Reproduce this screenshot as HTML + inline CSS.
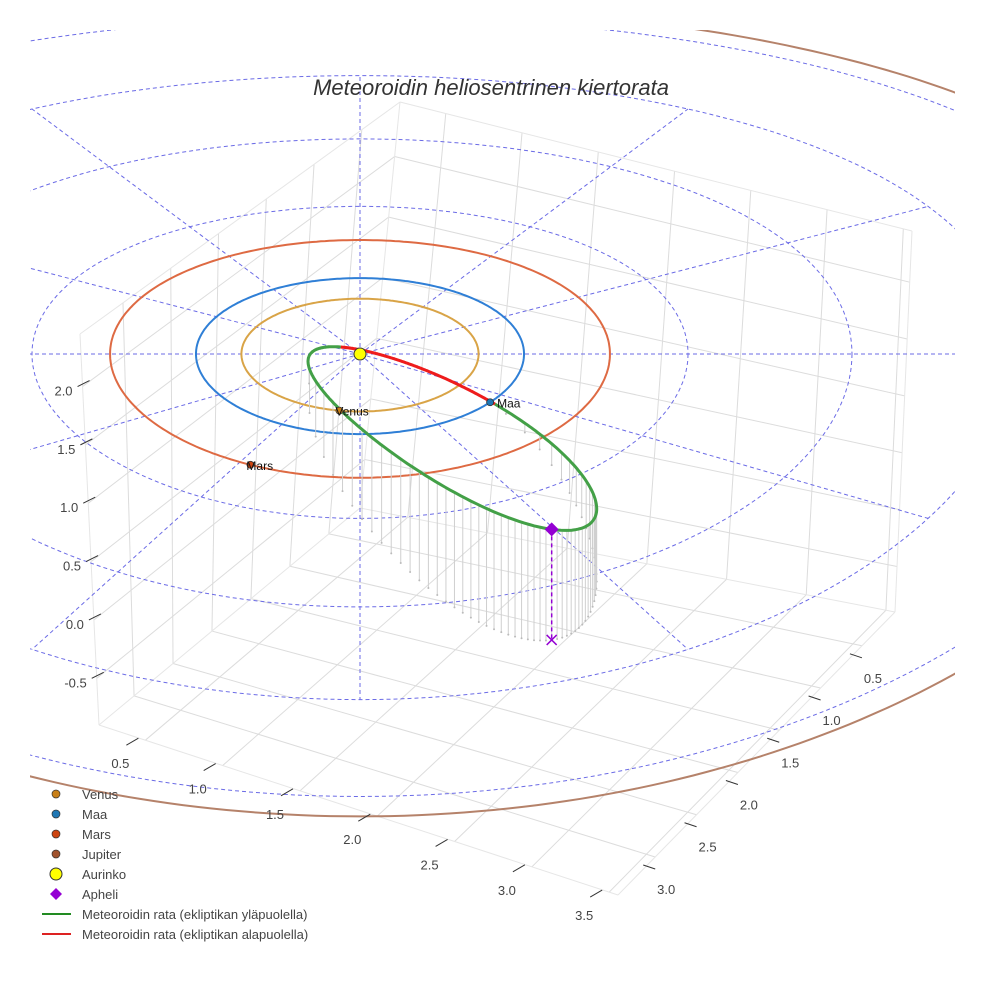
<!DOCTYPE html>
<html><head><meta charset="utf-8">
<style>
html,body{margin:0;padding:0;background:#fff;}
svg{display:block;font-family:"Liberation Sans",sans-serif;}
</style></head>
<body>
<svg id="chart" width="984" height="984" viewBox="0 0 984 984">
  <defs><clipPath id="clip"><rect x="30" y="30" width="925" height="930"/></clipPath></defs>
  <g id="box"></g>
  <g id="scene" clip-path="url(#clip)"></g>
  <g id="axes"></g>
  <text x="491" y="95" text-anchor="middle" font-size="22" font-style="italic" fill="#333">Meteoroidin heliosentrinen kiertorata</text>
  <g id="legend"></g>
</svg>
<script>
// ---- data ----
const planetNames = ["Venus", "Maa", "Mars"];
const planetRadii = [0.723, 1.0, 1.524];
const planetAngles = [100, 37.5, 116];
const orbitRadii = [0.723, 1.0, 1.524, 5.2];
const gridRingRadii = [1, 2, 3, 4, 5];
const spokeAngles = [0, 30, 60, 90, 120, 150, 180, 210, 240, 270, 300, 330];
const meteorA = 1.907;
const meteorE = 0.93;
const meteorInc = 25.6;
const meteorArgPeri = -143.9;
const meteorNode = 37.5;
const xTicks = [0.5, 1.0, 1.5, 2.0, 2.5, 3.0, 3.5];
const yTicks = [0.5, 1.0, 1.5, 2.0, 2.5, 3.0];
const zTicks = [-0.5, 0.0, 0.5, 1.0, 1.5, 2.0];
const xRange = [0.2, 3.557];
const yRange = [0.1, 3.45];
const zRange = [-0.9, 2.45];

const NS = "http://www.w3.org/2000/svg";
function mk(tag, attrs, parent) {
  const e = document.createElementNS(NS, tag);
  for (const k in attrs) e.setAttribute(k, attrs[k]);
  parent.appendChild(e);
  return e;
}
const D = Math.PI / 180;
function P(x, y, z) {
  return [360 + 164 * x, 354 + 78 * y + 2.1 * y * y - 118 * (z || 0)];
}
function polar(r, deg, z) { return P(r * Math.cos(deg * D), r * Math.sin(deg * D), z); }
function pts(arr) { return arr.map(p => p[0].toFixed(1) + "," + p[1].toFixed(1)).join(" "); }

// ---- box (frame) ----
const B0 = [360, 508], R0 = [895, 612], F0 = [618, 895], L0 = [99, 725];
const Bt = [400, 102], Rt = [912, 231], Lt = [80, 334];
function quad(A, B, C, Dd, s, t) {
  return [A[0]*(1-s)*(1-t) + B[0]*s*(1-t) + C[0]*s*t + Dd[0]*(1-s)*t,
          A[1]*(1-s)*(1-t) + B[1]*s*(1-t) + C[1]*s*t + Dd[1]*(1-s)*t];
}
const sx = v => (v - xRange[0]) / (xRange[1] - xRange[0]);
const sy = v => (v - yRange[0]) / (yRange[1] - yRange[0]);
const sz = v => (v - zRange[0]) / (zRange[1] - zRange[0]);
const box = document.getElementById("box");
function gline(a, b, name, col) {
  const l = mk("line", {x1: a[0], y1: a[1], x2: b[0], y2: b[1], stroke: col || "#dcdcdc", "stroke-width": 1}, box);
  
  
}
xTicks.forEach(v => gline(quad(B0,R0,F0,L0,sx(v),0), quad(B0,R0,F0,L0,sx(v),1), "floor-gridline-x"));
yTicks.forEach(v => gline(quad(B0,R0,F0,L0,0,sy(v)), quad(B0,R0,F0,L0,1,sy(v)), "floor-gridline-y"));
xTicks.forEach(v => gline(quad(B0,R0,Rt,Bt,sx(v),0), quad(B0,R0,Rt,Bt,sx(v),1), "back-wall-gridline-x"));
zTicks.forEach(v => gline(quad(B0,R0,Rt,Bt,0,sz(v)), quad(B0,R0,Rt,Bt,1,sz(v)), "back-wall-gridline-z"));
yTicks.forEach(v => gline(quad(B0,L0,Lt,Bt,sy(v),0), quad(B0,L0,Lt,Bt,sy(v),1), "left-wall-gridline-y"));
zTicks.forEach(v => gline(quad(B0,L0,Lt,Bt,0,sz(v)), quad(B0,L0,Lt,Bt,1,sz(v)), "left-wall-gridline-z"));
[[B0,R0],[R0,F0],[F0,L0],[L0,B0],[B0,Bt],[R0,Rt],[L0,Lt],[Bt,Rt],[Bt,Lt]].forEach(e => gline(e[0], e[1], "box-edge", "#e6e6e6"));

// ---- axes ticks ----
const axes = document.getElementById("axes");
function tickLabel(x, y, txt, anchor, name) {
  const t = mk("text", {x: x, y: y, "font-size": 13, fill: "#444", "text-anchor": anchor}, axes);
  t.textContent = txt;
  
  
}
function tickMark(a, b, name) {
  const l = mk("line", {x1: a[0], y1: a[1], x2: b[0], y2: b[1], stroke: "#333", "stroke-width": 1}, axes);
  
  
}
zTicks.forEach(v => {
  const p = [L0[0] + (Lt[0]-L0[0])*sz(v), L0[1] + (Lt[1]-L0[1])*sz(v)];
  tickMark([p[0]-5, p[1]], [p[0]+7, p[1]-6], "z-tick");
  tickLabel(p[0]-10, p[1]+9, v.toFixed(1), "end", "z-tick-label");
});
xTicks.forEach(v => {
  const p = quad(B0,R0,F0,L0,sx(v),1);
  tickMark([p[0]-19, p[1]+5], [p[0]-7, p[1]-2], "x-tick");
  tickLabel(p[0]-25, p[1]+28, v.toFixed(1), "middle", "x-tick-label");
});
yTicks.forEach(v => {
  const p = quad(B0,R0,F0,L0,1,sy(v));
  tickMark([p[0]-12, p[1]+8], [p[0], p[1]+12], "y-tick");
  tickLabel(p[0]+11, p[1]+37, v.toFixed(1), "middle", "y-tick-label");
});

// ---- scene ----
const scene = document.getElementById("scene");
gridRingRadii.forEach(r => {
  const a = [];
  for (let k = 0; k <= 240; k++) a.push(polar(r, k * 1.5, 0));
  const e = mk("polyline", {points: pts(a), fill: "none", stroke: "#6b6be6", "stroke-width": 1, "stroke-dasharray": "4,3"}, scene);
  
  
});
spokeAngles.forEach(ang => {
  if (ang % 180 === 0) return; // covered by the full horizontal axis line
  const a = polar(0, ang, 0), b = polar(4, ang, 0);
  const e = mk("line", {x1: a[0], y1: a[1], x2: b[0], y2: b[1], stroke: "#6b6be6", "stroke-width": 1, "stroke-dasharray": "4,3"}, scene);
  
  
});
{
  const e = mk("line", {x1: 0, y1: 354, x2: 984, y2: 354, stroke: "#6b6be6", "stroke-width": 1, "stroke-dasharray": "4,3"}, scene);
  
  
}
const orbitColors = ["#d9a447", "#2f7fd6", "#de6a43", "#b5826a"];
const orbitNames = ["venus-orbit", "earth-orbit", "mars-orbit", "jupiter-orbit"];
orbitRadii.forEach((r, i) => {
  const a = [];
  for (let k = 0; k <= 360; k++) a.push(polar(r, k, 0));
  const e = mk("polyline", {points: pts(a), fill: "none", stroke: orbitColors[i], "stroke-width": 2}, scene);
  
  
});
function meteorPos(nuDeg) {
  const p = meteorA * (1 - meteorE * meteorE);
  const r = p / (1 + meteorE * Math.cos(nuDeg * D));
  const u = (nuDeg + meteorArgPeri) * D, O = meteorNode * D, inc = meteorInc * D;
  return [r * (Math.cos(O)*Math.cos(u) - Math.sin(O)*Math.sin(u)*Math.cos(inc)),
          r * (Math.sin(O)*Math.cos(u) + Math.cos(O)*Math.sin(u)*Math.cos(inc)),
          r * Math.sin(u) * Math.sin(inc)];
}
const nodeNu = -meteorArgPeri;
for (let k = 0; k < 64; k++) {
  const M = k / 64 * 2 * Math.PI;
  let E = M;
  for (let j = 0; j < 40; j++) E = M + meteorE * Math.sin(E);
  const nu = 2 * Math.atan2(Math.sqrt(1 + meteorE) * Math.sin(E / 2), Math.sqrt(1 - meteorE) * Math.cos(E / 2)) / D;
  const q = meteorPos(nu);
  if (q[2] <= 0.02) continue;
  const a = P(q[0], q[1], q[2]), b = P(q[0], q[1], 0);
  const l = mk("line", {x1: a[0], y1: a[1], x2: b[0], y2: b[1], stroke: "#cfcfcf", "stroke-width": 1}, scene);
  
  
  const c = mk("circle", {cx: b[0], cy: b[1], r: 1, fill: "#bbb"}, scene);
  
  
}
{
  const g = [], r = [];
  for (let k = 0; k <= 400; k++) {
    const q = meteorPos(nodeNu + k * 180 / 400);
    g.push(P(q[0], q[1], q[2]));
    const q2 = meteorPos(nodeNu - 180 + k * 180 / 400);
    r.push(P(q2[0], q2[1], q2[2]));
  }
  const ge = mk("polyline", {points: pts(g), fill: "none", stroke: "#43a047", "stroke-width": 3}, scene);
  
  
  const re = mk("polyline", {points: pts(r), fill: "none", stroke: "#ee1c1c", "stroke-width": 3}, scene);
  
  
}
{
  const q = meteorPos(180);
  const a = P(q[0], q[1], q[2]), b = P(q[0], q[1], 0);
  const l = mk("line", {x1: a[0], y1: a[1], x2: b[0], y2: b[1], stroke: "#9400d3", "stroke-width": 1.5, "stroke-dasharray": "4,3"}, scene);
  
  
  const x = mk("path", {d: `M${b[0]-5},${b[1]-5}L${b[0]+5},${b[1]+5}M${b[0]+5},${b[1]-5}L${b[0]-5},${b[1]+5}`, stroke: "#9400d3", "stroke-width": 1.5, fill: "none"}, scene);
  
  
  const d = mk("path", {d: `M${a[0]},${a[1]-7}L${a[0]+7},${a[1]}L${a[0]},${a[1]+7}L${a[0]-7},${a[1]}Z`, fill: "#9400d3"}, scene);
  
  
}
const planetColors = ["#c87f17", "#1f77b4", "#cc4411"];
planetNames.forEach((n, i) => {
  const p = polar(planetRadii[i], planetAngles[i], 0);
  const c = mk("circle", {cx: p[0], cy: p[1], r: 3.5, fill: planetColors[i], stroke: "#333", "stroke-width": 0.8}, scene);
  
  
  const t = mk("text", {x: p[0] + (n === "Maa" ? 7 : -4), y: p[1] + 5, "font-size": 12, fill: "#111"}, scene);
  t.textContent = n;
  
  
});
{
  const s = P(0, 0, 0);
  const c = mk("circle", {cx: s[0], cy: s[1], r: 6, fill: "#ffff00", stroke: "#333", "stroke-width": 1}, scene);
  
  
}

// ---- legend ----
const legend = document.getElementById("legend");
const legendLabels = ["Venus", "Maa", "Mars", "Jupiter", "Aurinko", "Apheli", "Meteoroidin rata (ekliptikan yläpuolella)", "Meteoroidin rata (ekliptikan alapuolella)"];
const legendKinds = ["dot", "dot", "dot", "dot", "sun", "diamond", "line", "line"];
const legendColors = ["#c87f17", "#1f77b4", "#cc4411", "#a0522d", "#ffff00", "#9400d3", "#228b22", "#dd2222"];
legendLabels.forEach((lab, i) => {
  const y = 794 + i * 20;
  const g = mk("g", {}, legend);
  
  
  const k = legendKinds[i];
  if (k === "dot") mk("circle", {cx: 56, cy: y, r: 4, fill: legendColors[i], stroke: "#333", "stroke-width": 0.7}, g);
  else if (k === "sun") mk("circle", {cx: 56, cy: y, r: 6, fill: legendColors[i], stroke: "#333", "stroke-width": 1}, g);
  else if (k === "diamond") mk("path", {d: `M56,${y-6}L62,${y}L56,${y+6}L50,${y}Z`, fill: legendColors[i]}, g);
  else mk("line", {x1: 42, y1: y, x2: 71, y2: y, stroke: legendColors[i], "stroke-width": 2}, g);
  const t = mk("text", {x: 82, y: y + 5, "font-size": 13, fill: "#444"}, g);
  t.textContent = lab;
});
</script>
</body></html>
